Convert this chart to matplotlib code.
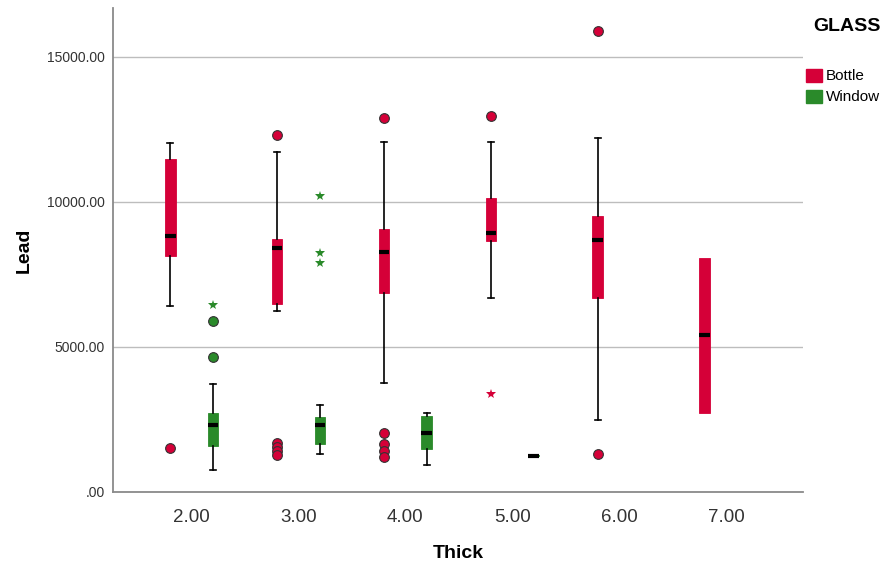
# boxplot Lead vs Thick, agrupado por GLASS
import matplotlib.pyplot as plt
from matplotlib.patches import Patch
from matplotlib.ticker import FuncFormatter

plt.rcParams["font.family"] = ["Liberation Sans", "DejaVu Sans"]

# -------------------------------
# Datos
# -------------------------------
thick = [2.0, 3.0, 4.0, 5.0, 6.0, 7.0]

bottle_thick = [2.0, 3.0, 4.0, 5.0, 6.0, 7.0]
bottle_q1 = [8130, 6490, 6870, 8650, 6680, 2740]
bottle_med = [8830, 8410, 8270, 8940, 8680, 5410]
bottle_q3 = [11490, 8710, 9080, 10150, 9520, 8080]
bottle_lo = [6410, 6240, 3770, 6680, 2490, 2740]
bottle_hi = [12020, 11740, 12070, 12070, 12220, 8080]
bottle_out = [[1510], [12310, 1700, 1550, 1400, 1260], [12890, 2050, 1650, 1420, 1200],
              [12970], [15900, 1320], []]
bottle_ext = [[], [], [], [3370], [], []]

window_thick = [2.0, 3.0, 4.0, 5.0]
window_q1 = [1590, 1640, 1470, 1240]
window_med = [2310, 2310, 2050, 1250]
window_q3 = [2740, 2590, 2620, 1260]
window_lo = [750, 1300, 920, 1235]
window_hi = [3710, 2990, 2740, 1265]
window_out = [[5910, 4670], [], [], []]
window_ext = [[6450], [10210, 8250, 7910], [], []]

grupos = ["Bottle", "Window"]
colores = {"Bottle": "#d50038", "Window": "#2a8a2a"}
desplaz = {"Bottle": -0.2, "Window": 0.2}


def armar_stats(q1, med, q3, lo, hi, out):
    stats = []
    for i in range(len(q1)):
        stats.append({"q1": q1[i], "med": med[i], "q3": q3[i],
                      "whislo": lo[i], "whishi": hi[i], "fliers": out[i]})
    return stats


series = {
    "Bottle": (bottle_thick, armar_stats(bottle_q1, bottle_med, bottle_q3,
                                         bottle_lo, bottle_hi, bottle_out), bottle_ext),
    "Window": (window_thick, armar_stats(window_q1, window_med, window_q3,
                                         window_lo, window_hi, window_out), window_ext),
}

# -------------------------------
# Figura
# -------------------------------
fig = plt.figure(figsize=(8.87, 5.62), dpi=100)
ax = fig.add_axes([0.1274, 0.1246, 0.7776, 0.8612])

for g in grupos:
    xs, stats, ext = series[g]
    c = colores[g]
    pos = [x + desplaz[g] for x in xs]
    res = ax.bxp(stats, positions=pos, widths=0.1, patch_artist=True,
                 manage_ticks=False, capwidths=0.055,
                 boxprops=dict(facecolor=c, edgecolor=c, linewidth=0.6),
                 medianprops=dict(color="black", linewidth=3.0, solid_capstyle="butt"),
                 whiskerprops=dict(color="black", linewidth=1.2),
                 capprops=dict(color="black", linewidth=1.2),
                 flierprops=dict(marker="o", markerfacecolor=c, markeredgecolor="#333333",
                                 markeredgewidth=0.8, markersize=7),
                 zorder=3)
    # sin bigotes cuando coinciden con la caja
    for i, s in enumerate(stats):
        if s["whislo"] == s["q1"] and s["whishi"] == s["q3"] and s["q1"] != s["q3"]:
            res["caps"][2 * i].set_visible(False)
            res["caps"][2 * i + 1].set_visible(False)
    # extremos (estrellas)
    for p, e in zip(pos, ext):
        if e:
            ax.plot([p] * len(e), e, linestyle="none", marker="*", color=c,
                    markersize=7, markeredgewidth=0, zorder=4)

# ejes
ax.set_xlim(1.265, 7.717)
ax.set_ylim(0, 16690)
ax.set_xticks(thick)
ax.set_xticklabels([f"{t:.2f}" for t in thick])
ax.set_yticks([0, 5000, 10000, 15000])
ax.yaxis.set_major_formatter(FuncFormatter(lambda v, p: ".00" if v == 0 else f"{v:.2f}"))
ax.tick_params(axis="both", length=0, colors="#333333")
ax.tick_params(axis="x", labelsize=13.5, pad=12)
ax.tick_params(axis="y", labelsize=10, pad=6)

ax.grid(axis="y", color="#bdbdbd", linewidth=1.0)
ax.set_axisbelow(True)
for lado in ["top", "right"]:
    ax.spines[lado].set_visible(False)
for lado in ["left", "bottom"]:
    ax.spines[lado].set_color("#8a8a8a")
    ax.spines[lado].set_linewidth(1.3)

ax.set_xlabel("Thick", fontsize=14, fontweight="bold", labelpad=14)
ax.set_ylabel("Lead", fontsize=14, fontweight="bold", labelpad=10)

# leyenda
fig.text(0.955, 0.952, "GLASS", fontsize=14, fontweight="bold", ha="center", va="center")
handles = [Patch(facecolor=colores[g], edgecolor=colores[g]) for g in grupos]
fig.legend(handles, grupos, loc="upper left", bbox_to_anchor=(0.909, 0.878),
           frameon=False, fontsize=11, handlelength=1.0, handleheight=0.95,
           handletextpad=0.3, labelspacing=0.4, borderpad=0, borderaxespad=0)

fig.savefig("out.png", dpi=100)
